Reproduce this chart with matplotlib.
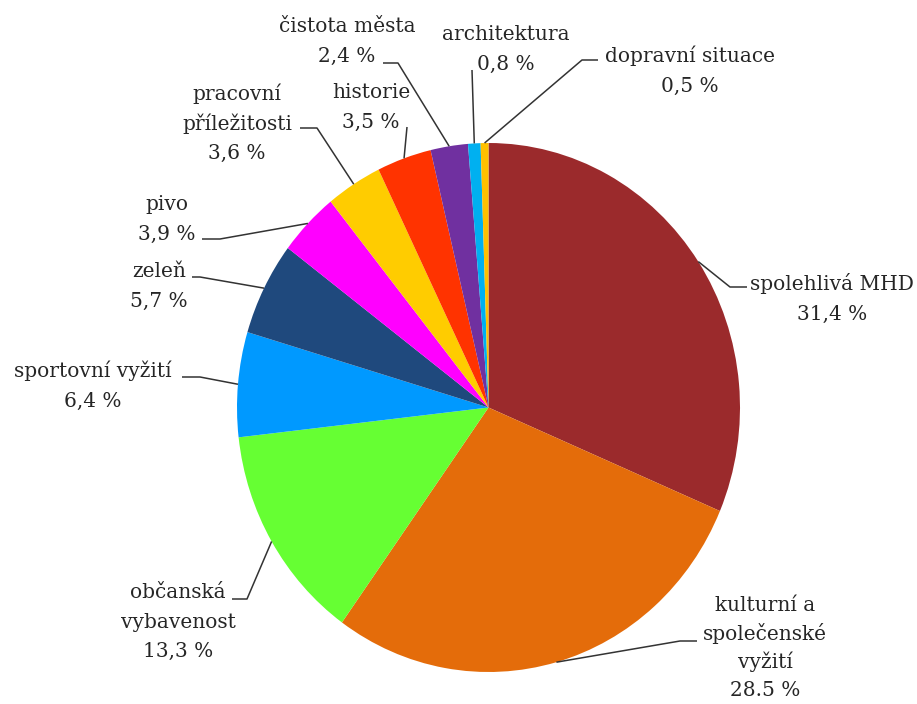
import matplotlib
matplotlib.use('Agg')
import matplotlib.pyplot as plt
import numpy as np

# data (clockwise from 12 o'clock)
categories = ['spolehlivá MHD', 'kulturní a\nspolečenské\nvyžití', 'občanská\nvybavenost',
              'sportovní vyžití', 'zeleň', 'pivo', 'pracovní\npříležitosti', 'historie',
              'čistota města', 'architektura', 'dopravní situace']
values = [31.4, 28.5, 13.3, 6.4, 5.7, 3.9, 3.6, 3.5, 2.4, 0.8, 0.5]
value_labels = ['31,4 %', '28.5 %', '13,3 %', '6,4 %', '5,7 %', '3,9 %', '3,6 %', '3,5 %',
                '2,4 %', '0,8 %', '0,5 %']
colors = ['#9B2A2C', '#E46C0A', '#66FF33', '#0099FF', '#1F497D', '#FF00FF', '#FFCC00',
          '#FF3300', '#7030A0', '#00B0F0', '#FFC000']

# label layout in pixels (y down): text centre x, first baseline y,
# leader start, leader corner
label_pos = [(832, 290), (765, 611), (178, 598), (93, 377), (159, 277), (167, 210),
             (237, 100), (371, 98), (347, 32), (506, 40), (690, 62)]
leader_start = [(747, 287), (697, 641), (232, 599), (182, 377), (192, 277), (202, 239),
                (300, 128), (407, 127), (383, 63), (472, 70), (598, 60)]
leader_corner = [(730, 287), (680, 641), (247, 599), (200, 377), (200, 277), (220, 239),
                 (317, 128), (407, 127), (398, 63), (472, 70), (582, 60)]

W, H = 917, 704
fig = plt.figure(figsize=(W / 100, H / 100), dpi=100)

# pie is a bit taller than wide in the original
pie_ax = fig.add_axes([237 / W, (H - 672) / H, 503 / W, 529 / H])
wedges, _ = pie_ax.pie(values, colors=colors, startangle=90, counterclock=False,
                       radius=1, wedgeprops={'linewidth': 0})
pie_ax.set_aspect('auto')
pie_ax.set_xlim(-1, 1)
pie_ax.set_ylim(-1, 1)
pie_ax.axis('off')

ov = fig.add_axes([0, 0, 1, 1])
ov.set_xlim(0, W)
ov.set_ylim(H, 0)
ov.axis('off')
ov.patch.set_alpha(0)

txt_col = '#262626'
for i, w in enumerate(wedges):
    mid = np.deg2rad((w.theta1 + w.theta2) / 2)
    disp = pie_ax.transData.transform((np.cos(mid), np.sin(mid)))
    ex, ey = ov.transData.inverted().transform(disp)
    xs = [leader_start[i][0], leader_corner[i][0], ex]
    ys = [leader_start[i][1], leader_corner[i][1], ey]
    ov.plot(xs, ys, color='#333333', lw=1.1, solid_capstyle='butt')

    lines = categories[i].split('\n') + [value_labels[i]]
    line_h = 28.5 if len(lines) > 3 else 29.5
    x0, y0 = label_pos[i]
    for k, s in enumerate(lines):
        ov.text(x0, y0 + k * line_h, s, ha='center', va='baseline',
                fontsize=14.5, family='DejaVu Serif', color=txt_col)

fig.savefig('out.png', dpi=100)
